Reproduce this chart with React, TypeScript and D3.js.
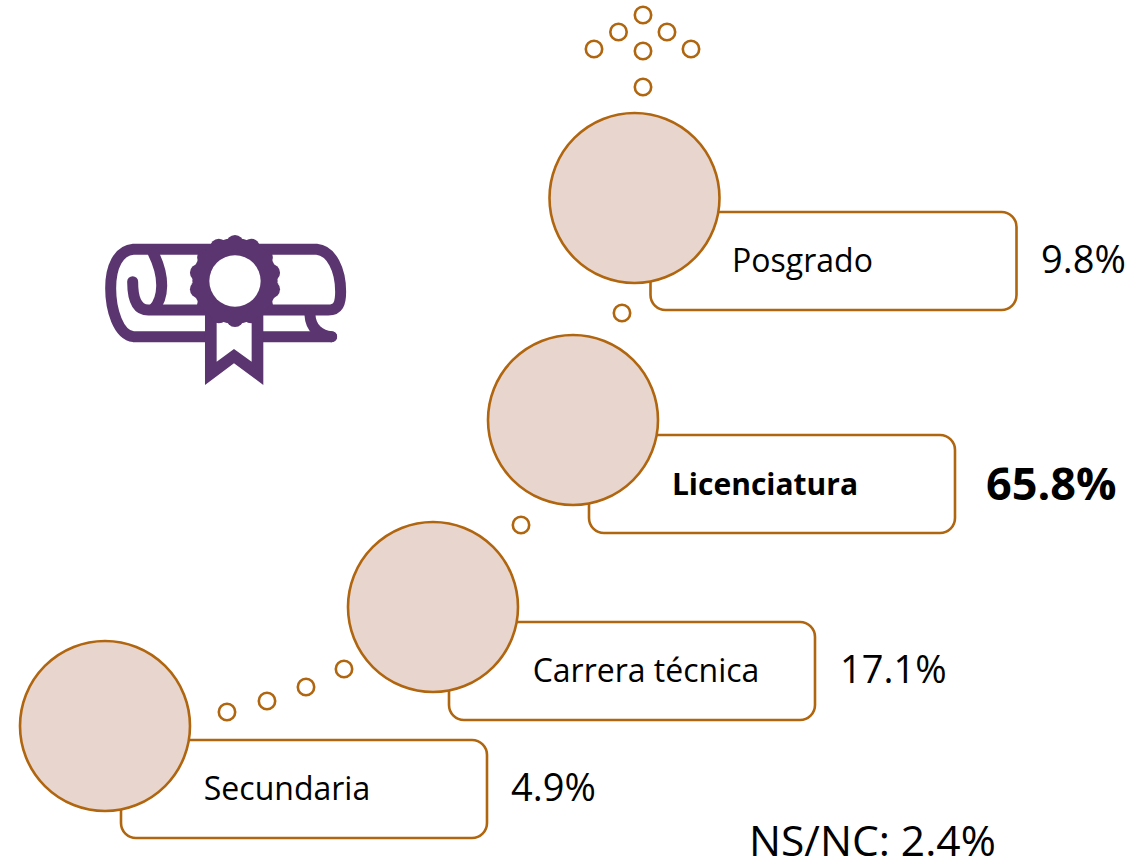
import React from "react";
import * as d3 from "d3";

// values
const levels = ["Secundaria", "Carrera técnica", "Licenciatura", "Posgrado"];
const shares = [4.9, 17.1, 65.8, 9.8];
const highlighted = "Licenciatura";
const noAnswer = "NS/NC: 2.4%";

// layout of the steps, one entry per level
const stepX = [105, 433, 573, 634.5];
const stepY = [726, 607, 420, 198];
const boxTop = [740, 622, 435, 212];
const labelCenter = [166, 197, 176, 152];
const valueStart = [511, 840, 986, 1041];

// small connecting dots
const dotX = [227, 267, 306, 344, 521, 622, 643, 643, 643, 618.5, 667, 594, 691];
const dotY = [712, 701, 687, 669, 525, 313, 87, 51, 15, 32, 32, 49, 49];

const ORANGE = "#B0650F";
const FILL = "#E8D5CE";
const PURPLE = "#5B3570";
const FONT = "'Open Sans', 'Noto Sans', sans-serif";

const R = 85;
const BOX_W = 366;
const BOX_H = 98;
const STROKE = 2.6;

const Diploma = () => {
  const ref = React.useRef<SVGGElement>(null);

  React.useEffect(() => {
    const g = d3.select(ref.current);
    g.selectAll("*").remove();

    const scroll = [
      "M725 350 L130 350 C85 345 62 270 62 205 C62 140 85 92 130 88 L680 88 C725 92 752 150 752 215 C752 250 745 270 715 270 L175 270 C145 270 128 245 128 185",
      "M190 100 C225 170 222 235 190 268",
      "M660 285 C662 325 690 348 725 350",
    ];
    g.selectAll("path.scroll")
      .data(scroll)
      .join("path")
      .attr("class", "scroll")
      .attr("d", d => d)
      .attr("fill", "none")
      .attr("stroke", PURPLE)
      .attr("stroke-width", 33)
      .attr("stroke-linecap", "round");

    const polyline = d3.line();
    g.append("path")
      .attr("d", polyline([[345, 285], [520, 285], [520, 495], [432, 430], [345, 495]]) + "Z")
      .attr("fill", PURPLE);
    g.append("path")
      .attr("d", polyline([[380, 305], [485, 305], [485, 425], [432, 387], [380, 425]]) + "Z")
      .attr("fill", "#fff");

    const bumps = d3.range(14).map(i => (i / 14) * 2 * Math.PI);
    g.selectAll("circle.bump")
      .data(bumps)
      .join("circle")
      .attr("class", "bump")
      .attr("cx", a => 435 + 112 * Math.sin(a))
      .attr("cy", a => 183 - 112 * Math.cos(a))
      .attr("r", 26)
      .attr("fill", PURPLE);
    g.append("circle").attr("cx", 435).attr("cy", 183).attr("r", 128).attr("fill", PURPLE);
    g.append("circle").attr("cx", 435).attr("cy", 183).attr("r", 77).attr("fill", "#fff");
  }, []);

  return <g ref={ref} transform="translate(90,220) scale(0.3333)" />;
};

const App = () => {
  const x = d3.scaleOrdinal<string, number>(levels, stepX);
  const y = d3.scaleOrdinal<string, number>(levels, stepY);
  const top = d3.scaleOrdinal<string, number>(levels, boxTop);

  return (
    <svg width={1145} height={865} style={{ position: "absolute", left: 0, top: 0 }} fontFamily={FONT}>
      <Diploma />

      {dotX.map((cx, i) => (
        <circle key={i} cx={cx} cy={dotY[i]} r={8.2} fill="#fff" stroke={ORANGE} strokeWidth={STROKE} />
      ))}

      {levels.map((level, i) => {
        const bold = level === highlighted;
        const bx = x(level) + 16;
        const by = top(level);
        return (
          <g key={level}>
            <rect x={bx} y={by} width={BOX_W} height={BOX_H} rx={15} fill="#fff" stroke={ORANGE} strokeWidth={STROKE} />
            <circle cx={x(level)} cy={y(level)} r={R} fill={FILL} stroke={ORANGE} strokeWidth={STROKE} />
            <text
              x={bx + labelCenter[i]}
              y={by + 60}
              textAnchor="middle"
              fontSize={bold ? 30 : 32}
              fontWeight={bold ? 700 : 400}
              fill="#000"
            >
              {level}
            </text>
            <text
              x={valueStart[i]}
              y={by + (bold ? 65 : 61)}
              fontSize={bold ? 45 : 38}
              fontWeight={bold ? 700 : 400}
              fill="#000"
            >
              {d3.format(".1f")(shares[i])}%
            </text>
          </g>
        );
      })}

      <text x={749} y={856} fontSize={42.5} fill="#000">
        {noAnswer}
      </text>
    </svg>
  );
};

export default App;
